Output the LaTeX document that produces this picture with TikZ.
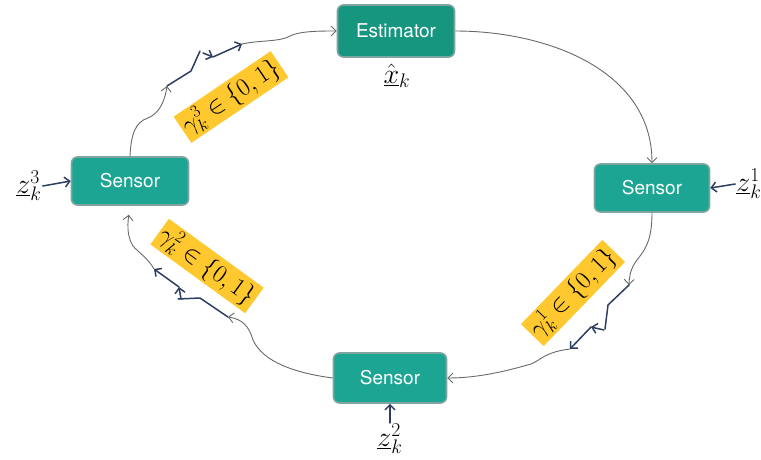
\RequirePackage{fix-cm}
\documentclass[tikz,border=0pt]{standalone}
\usepackage{fontspec}
\setsansfont{TeX Gyre Heros}
\usetikzlibrary{arrows.meta}

\definecolor{sensorgreen}{RGB}{29,165,147}
\definecolor{estgreen}{RGB}{23,150,127}
\definecolor{boxrim}{RGB}{128,165,160}
\definecolor{gatebg}{RGB}{255,200,46}
\definecolor{chanblue}{RGB}{45,62,98}
\definecolor{linkgray}{RGB}{105,105,105}

\tikzset{
	sensor/.style={draw=boxrim, line width=1.6pt, fill=sensorgreen, rounded corners=6pt,
		minimum width=115pt, minimum height=48pt, text=white,
		font=\sffamily\fontsize{19}{22}\selectfont},
	estim/.style={sensor, fill=estgreen, minimum width=117pt, minimum height=52pt},
	gate/.style={fill=gatebg, inner sep=2.5pt, font=\fontsize{25}{28}\selectfont},
	meas/.style={font=\fontsize{28}{32}\selectfont, inner sep=1pt},
	link/.style={draw=linkgray, line width=0.9pt, -{Straight Barb[length=5pt,width=10pt]}},
	chan/.style={draw=chanblue, line width=1.5pt, line cap=round, line join=round},
	tip/.style={-{Straight Barb[length=5pt,width=10pt]}}
}

\begin{document}
\begin{tikzpicture}[x=1pt,y=-1pt]
	\useasboundingbox (0,0) rectangle (761,459);
	
	% agents
	\node[estim] (est) at (396,31) {Estimator};
	\node[sensor] (s1) at (652,188) {Sensor};
	\node[sensor, minimum width=113pt, minimum height=50pt] (s2) at (390,378) {Sensor};
	\node[sensor, minimum width=117pt] (s3) at (130,181) {Sensor};
	\node[meas] (xhat) at (397,76) {$\hat{\underline{x}}_k$};
	
	% measurements
	\node[meas] (z1) at (749,184) {$\underline{z}_k^1$};
	\node[meas] (z2) at (390,439) {$\underline{z}_k^2$};
	\node[meas] (z3) at (29,186) {$\underline{z}_k^3$};
	\draw[chan,tip] (z1.west) -- (s1.east);
	\draw[chan,tip] (z2.north) -- (s2.south);
	\draw[chan,tip] (z3.east) -- (s3.west);
	
	% packet drop flags
	\node[gate, rotate=46] (gam1) at (573,293) {$\gamma_k^1\in\{0,1\}$};
	\node[gate, rotate=-36] (gam2) at (207,266) {$\gamma_k^2\in\{0,1\}$};
	\node[gate, rotate=34] (gam3) at (231,97) {$\gamma_k^3\in\{0,1\}$};
	
	% ends of the lossy channels
	\coordinate (c1a) at (629,285);
	\coordinate (c1b) at (570,349);
	\coordinate (c2a) at (228,317);
	\coordinate (c2b) at (154,269);
	\coordinate (c3a) at (167,86);
	\coordinate (c3b) at (242,44);
	
	% ring
	\draw[link] (est.east) to[out=0,in=90] (s1.north);
	\draw[link] (s1.south) .. controls (652,262) and (630,252) .. (c1a);
	\draw[link] (c1b) .. controls (545,352) and (541,360) .. (531,364)
		.. controls (510,370) and (480,378) .. (s2.east);
	\draw[link] (s2.west) .. controls (295,373) and (263,362) .. (253,340)
		.. controls (249,326) and (242,319) .. (c2a);
	\draw[link, shorten >=9pt] (c2b) .. controls (148,258) and (138,252) .. (133,246)
		.. controls (128,238) and (127,228) .. (s3.south);
	\draw[link] (s3.north) .. controls (131,135) and (135,122) .. (148,118)
		.. controls (160,113) and (165,100) .. (c3a);
	\draw[link] (c3b) .. controls (260,40) and (280,42) .. (290,36)
		.. controls (300,31) and (320,31) .. (est.west);
	
	% broken links
	\draw[chan] (c1a) -- (608,305) -- (605,329);
	\draw[chan,tip] (604,330) -- (591,327);
	\draw[chan,tip] (591,327) -- (c1b);
	
	\draw[chan] (c2a) -- (200,298) -- (178,299);
	\draw[chan,tip] (181,299) -- (179,287);
	\draw[chan,tip] (179,287) -- (c2b);
	
	\draw[chan] (c3a) -- (191,71) -- (200,51);
	\draw[chan,tip] (203,53) -- (213,57);
	\draw[chan,tip] (213,57) -- (c3b);
\end{tikzpicture}
\end{document}
